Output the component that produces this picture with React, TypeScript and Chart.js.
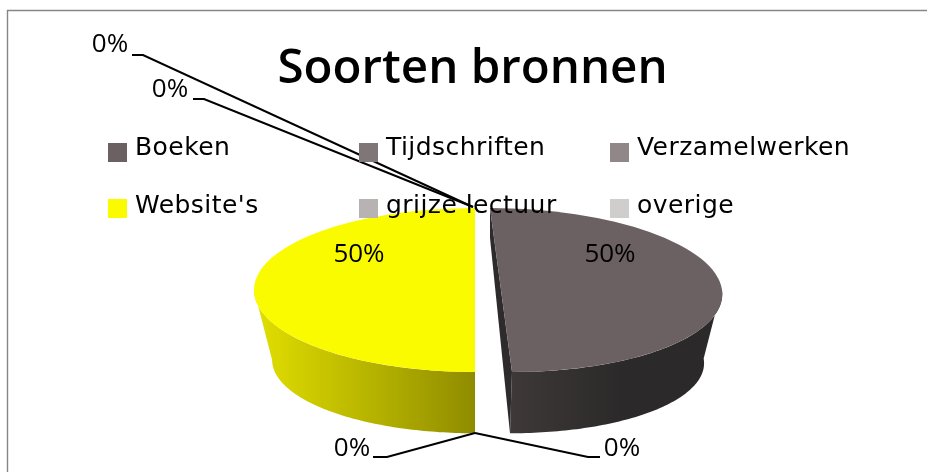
import React, { useEffect, useRef } from "react";
import { Chart, registerables } from "chart.js";

Chart.register(...registerables);

const categories = ["Boeken", "Tijdschriften", "Verzamelwerken", "Website's", "grijze lectuur", "overige"];
const values = [50, 0, 0, 50, 0, 0];
const colors = ["#6b6162", "#7f7677", "#918788", "#fbfb00", "#b8b3b3", "#cfcecd"];
const chartTitle = "Soorten bronnen";

const FONT = '"DejaVu Sans"';
const LABEL_FONT = '"Open Sans"';

// Projection of the flat pie to the tilted 3D view
const TILT = { xScale: 221 / 82, yScale: 1, depthDrop: 70, depthShrink: 0.918, shift: 2.5 };
const EXPLODE = { dx: 26, shear: 11, innerDrop: 30 };

// Label placement per slice: text centre, elbow, and line end
const labelSpots: any[] = [
  { tx: 610, ty: 255 },
  { tx: 622, ty: 449, elbow: [600, 457, 588, 457, 475, 433] },
  { tx: 352, ty: 449, elbow: [373, 457, 387, 457, 475, 433] },
  { tx: 359, ty: 255 },
  { tx: 170, ty: 90, elbow: [193, 99, 204, 99, 473, 207] },
  { tx: 110, ty: 45, elbow: [132, 55, 143, 55, 473, 207] },
];

const legendCols = [108, 359, 610];
const legendRows = [143, 199];

const pie3d = {
  id: "pie3d",
  beforeDatasetDraw(chart: any, args: any) {
    const ctx = chart.ctx;
    const meta = args.meta;
    meta.data.forEach((arc: any) => {
      if (arc.circumference === 0) return;
      const R = arc.outerRadius;
      const isRight = Math.cos((arc.startAngle + arc.endAngle) / 2) > 0;
      const cx = arc.x + TILT.shift + (isRight ? EXPLODE.dx : 0);
      const cy = arc.y;
      const rx = R * TILT.xScale;
      const ry = R * TILT.yScale;
      const s = isRight ? EXPLODE.shear : 0;
      const brx = rx * TILT.depthShrink;
      const bry = ry * TILT.depthShrink - 2;
      const by = cy + TILT.depthDrop;
      const bs = isRight ? 9 : 0;
      const top = (t: number) => [cx + rx * Math.cos(t) + s * Math.sin(t), cy + ry * Math.sin(t)];
      const bot = (t: number) => [cx + brx * Math.cos(t) + bs * Math.sin(t), by + bry * Math.sin(t)];
      const from = isRight ? -0.02 : Math.PI / 2;
      const to = isRight ? Math.PI / 2 : Math.PI;
      ctx.save();
      ctx.beginPath();
      for (let i = 0; i <= 80; i++) {
        const t = from + ((to - from) * i) / 80;
        const p = top(t);
        i ? ctx.lineTo(p[0], p[1]) : ctx.moveTo(p[0], p[1]);
      }
      for (let i = 80; i >= 0; i--) {
        const t = from + ((to - from) * i) / 80;
        const p = bot(t);
        ctx.lineTo(p[0], p[1]);
      }
      ctx.closePath();
      const g = ctx.createLinearGradient(isRight ? cx : cx - rx, 0, isRight ? cx + rx : cx, 0);
      if (isRight) {
        g.addColorStop(0, "#403a3a");
        g.addColorStop(0.55, "#2b2929");
        g.addColorStop(1, "#2b2929");
      } else {
        g.addColorStop(0, "#e2df00");
        g.addColorStop(1, "#8f8c00");
      }
      ctx.fillStyle = g;
      ctx.fill();
      if (isRight) {
        const a = top(-Math.PI / 2);
        const b = top(Math.PI / 2);
        const c = bot(Math.PI / 2);
        ctx.beginPath();
        ctx.moveTo(a[0], a[1]);
        ctx.lineTo(b[0], b[1]);
        ctx.lineTo(c[0], c[1]);
        ctx.lineTo(a[0], a[1] + EXPLODE.innerDrop);
        ctx.closePath();
        ctx.fillStyle = "#2e2b2c";
        ctx.fill();
      }
      ctx.restore();
      ctx.save();
      ctx.transform(TILT.xScale, 0, s / R, TILT.yScale, cx - TILT.xScale * arc.x - (s / R) * arc.y, cy - TILT.yScale * arc.y);
      arc.draw(ctx);
      ctx.restore();
    });
    return false;
  },
  afterDatasetsDraw(chart: any) {
    const ctx = chart.ctx;
    const data = chart.data.datasets[0].data as number[];
    const total = data.reduce((a, b) => a + b, 0);
    ctx.save();
    // frame of the picture
    ctx.strokeStyle = "#868686";
    ctx.lineWidth = 1.4;
    ctx.beginPath();
    ctx.moveTo(7.5, chart.height);
    ctx.lineTo(7.5, 10.5);
    ctx.lineTo(chart.width, 10.5);
    ctx.stroke();
    // leader lines
    ctx.strokeStyle = "#000";
    ctx.lineWidth = 2;
    labelSpots.forEach((sp: any) => {
      if (!sp.elbow) return;
      const e = sp.elbow;
      ctx.beginPath();
      ctx.moveTo(e[0], e[1]);
      ctx.lineTo(e[2], e[3]);
      ctx.lineTo(e[4], e[5]);
      ctx.stroke();
    });
    // legend
    ctx.textBaseline = "alphabetic";
    ctx.textAlign = "left";
    ctx.font = `25px ${FONT}`;
    ctx.letterSpacing = "0.45px";
    (chart.data.labels as string[]).forEach((name, i) => {
      const x = legendCols[i % 3];
      const row = Math.floor(i / 3);
      const y = legendRows[row];
      ctx.fillStyle = chart.data.datasets[0].backgroundColor[i];
      ctx.fillRect(x, y, 19, 19);
      ctx.fillStyle = "#000";
      ctx.fillText(name, x + 27, y + (row === 0 ? 12 : 13.5));
    });
    ctx.letterSpacing = "0px";
    // percentage labels
    ctx.textAlign = "center";
    ctx.textBaseline = "middle";
    ctx.font = `26px ${LABEL_FONT}`;
    ctx.fillStyle = "#000";
    data.forEach((v, i) => {
      ctx.fillText(`${Math.round((v / total) * 100)}%`, labelSpots[i].tx, labelSpots[i].ty);
    });
    ctx.restore();
  },
};

export default function App() {
  const ref = useRef<HTMLCanvasElement>(null);
  useEffect(() => {
    const chart = new Chart(ref.current as HTMLCanvasElement, {
      type: "pie",
      data: {
        labels: categories,
        datasets: [{ data: values, backgroundColor: colors, borderWidth: 0 }],
      },
      options: {
        animation: false,
        responsive: false,
        layout: { padding: { left: 18, right: 0, top: 0, bottom: 100 } },
        plugins: {
          legend: { display: false },
          tooltip: { enabled: false },
          title: {
            display: true,
            text: chartTitle,
            color: "#000",
            font: { family: '"Open Sans"', size: 47.5, weight: "600" },
            padding: { top: 41, bottom: 110 },
          },
        },
      },
      plugins: [pie3d],
    } as any);
    return () => chart.destroy();
  }, []);
  return (
    <div style={{ position: "fixed", left: 0, top: 0, width: 927, height: 472, background: "#fff" }}>
      <canvas ref={ref} width={927} height={472} style={{ display: "block" }} />
    </div>
  );
}
